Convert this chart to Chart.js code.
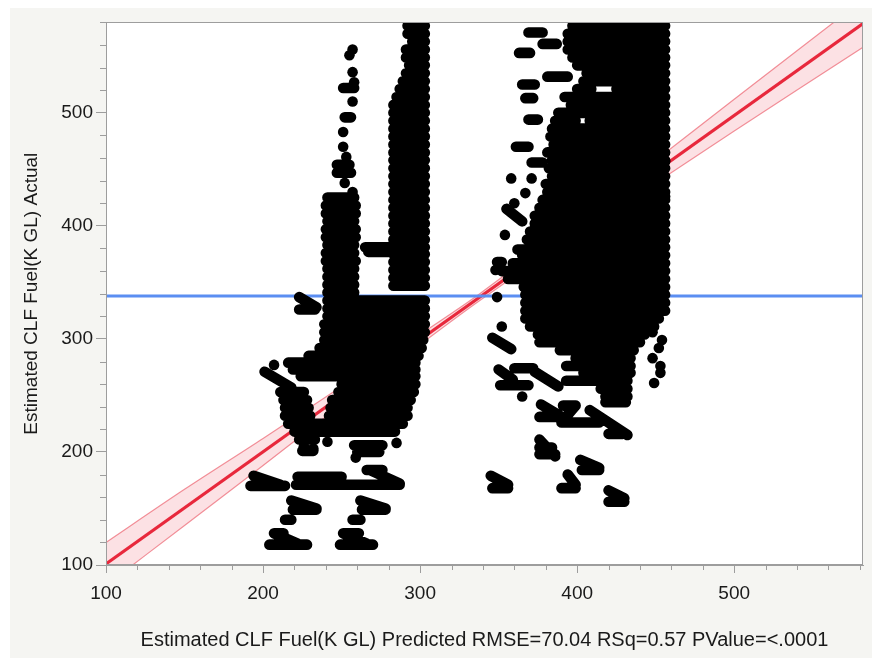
<!DOCTYPE html>
<html>
<head>
<meta charset="utf-8">
<script src="https://cdn.jsdelivr.net/npm/chart.js@4.4.1/dist/chart.umd.min.js"></script>
<style>
  html, body { margin: 0; background: #fff; }
  #wrap { position: absolute; left: 10px; top: 8px; width: 862px; height: 650px; background: #f5f5f2; }
</style>
</head>
<body>
<div id="wrap"><canvas id="fit-chart"></canvas></div>
<script>
// axes
const xMin = 100, xMax = 582;
const yMin = 100, yMax = 580;
const xTitle = 'Estimated CLF Fuel(K GL) Predicted RMSE=70.04 RSq=0.57 PValue=<.0001';
const yTitle = 'Estimated CLF Fuel(K GL) Actual';

// fit line, confidence band, mean
const fitX = [100, 582];
const fitY = [101, 579];
const bandX = [100, 150, 200, 250, 300, 338, 400, 450, 500, 582];
const bandUpper = [120, 167, 212, 258, 304, 340, 405, 458, 512, 600];
const bandLower = [82, 135, 188, 242, 295, 334, 393, 438, 484, 558];
const meanY = 338;

// points come in horizontal runs: [y, xFrom, xTo]
const leftRows = [
  [577,292,303],[570,292,303],[563,295,303],[556,291,303],[549,291,303],[542,293,303],
  [535,291,303],[528,289,303],[521,287,303],[514,285,303],[507,283,303],[500,283,303],
  [493,283,303],[486,283,303],[479,283,303],[472,283,303],[465,283,303],[458,283,303],
  [451,283,303],[444,283,303],[437,283,303],[430,283,303],[423,283,303],[416,283,303],
  [409,283,303],[402,283,303],[395,283,303],[388,283,303],[381,265,303],[377,267,280],
  [375,283,303],[368,283,303],[361,283,303],[354,283,303],[347,283,303],
  [522,251,258],[496,252,256],[454,247,255],[447,247,256],
  [425,241,258],[418,240,259],[411,240,259],[404,241,258],[397,240,259],[390,240,259],
  [383,241,258],[376,240,258],[369,240,259],[362,241,258],[355,241,258],[348,241,258],
  [341,241,258],[326,223,233],
  [334,241,303],[327,241,303],[320,241,303],[313,239,303],[306,239,303],[299,239,302],
  [292,236,301],[285,229,299],[279,216,297],[273,219,297],[267,224,297],[260,250,297],
  [253,211,226],[253,248,296],[246,213,228],[246,244,294],[239,214,229],[239,243,292],
  [232,214,230],[232,242,292],[225,216,289],[218,220,284],
  [211,223,233],[206,258,276],[201,225,232],[200,260,274],
  [170,192,214],[178,222,250],[171,221,287],[184,266,276],[149,219,234],[149,263,278],
  [140,214,218],[140,257,262],[128,207,213],[118,204,228],[128,251,261],[118,249,270]
];
const rightRows = [
  [571,369,378],[561,378,387],[553,363,370],[532,381,394],[525,365,373],[513,367,372],
  [494,369,375],[479,383,397],[470,361,369],[456,371,378],[379,362,369],[368,349,352],
  [577,397,456],[570,394,456],[563,394,456],[556,394,456],[549,397,456],[542,400,456],
  [535,406,456],[528,404,456],[521,400,409],[521,425,456],[514,392,456],
  [507,396,456],[500,388,456],[493,386,399],[493,408,456],[486,384,456],[479,383,456],
  [472,385,456],[465,381,456],[458,384,456],
  [451,382,456],[444,384,456],[437,380,456],[430,381,456],[423,378,456],[416,376,456],
  [409,373,456],[402,373,456],[395,370,456],[388,368,456],[381,370,456],[374,365,456],
  [367,359,456],[360,352,456],[353,356,456],[346,366,456],[339,367,456],[332,367,456],
  [325,367,456],[318,367,452],[311,370,449],[304,375,443],[297,376,440],[290,389,436],
  [283,399,434],[276,393,434],[270,404,434],[263,393,432],[256,415,432],[249,418,432],
  [244,418,431],
  [274,360,372],[259,351,369],[231,376,388],[241,391,399],[226,390,414],[216,420,429],
  [204,376,384],[198,376,386],[184,403,414],[168,346,356],[168,390,399],[156,420,430]
];
// slanted runs: [x1, y1, x2, y2]
const leftRuns = [
  [223,337,234,328],[201,271,218,257],[194,179,211,171],[268,184,287,172],
  [218,157,234,150],[262,157,278,150],[207,128,222,119],[251,128,266,119]
];
const rightRuns = [
  [350,273,359,264],[373,271,388,258],[377,242,389,232],[399,241,391,228],
  [408,237,432,215],[376,211,386,196],[402,193,414,186],[345,179,356,171],
  [394,180,399,171],[420,166,430,159],[346,301,358,291],[355,415,365,404]
];
// single points: [x, y]
const leftDots = [
  [257,556],[255,551],[257,536],[258,527],[257,510],[251,483],[251,470],[253,461],
  [252,438],[257,430],[207,277],[241,209],[285,208],[259,195],[226,205],[232,203]
];
const rightDots = [
  [358,442],[371,442],[367,429],[360,420],[354,392],[348,361],[349,337],[352,311],
  [448,306],[454,299],[452,292],[448,283],[453,276],[453,270],[449,261],[365,249],
  [456,457],[456,426]
];

// runs -> one broken polyline
function runPath(rows, runs) {
  const pts = [];
  rows.forEach(([y, x1, x2]) => pts.push({x: x1, y: y}, {x: x2, y: y}, {x: x2, y: null}));
  runs.forEach(([x1, y1, x2, y2]) => pts.push({x: x1, y: y1}, {x: x2, y: y2}, {x: x2, y: null}));
  return pts;
}
const runPts = runPath(leftRows.concat(rightRows), leftRuns.concat(rightRuns));
const dotPts = leftDots.concat(rightDots).map(([x, y]) => ({x, y}));

const isMajor = v => v % 100 === 0;
const axisGray = '#9d9d9d';

// white plot area, frame and the short minor ticks
const frame = {
  id: 'frame',
  beforeDraw(chart) {
    const {ctx, chartArea: a} = chart;
    ctx.save();
    ctx.fillStyle = '#fff';
    ctx.fillRect(a.left, a.top, a.right - a.left, a.bottom - a.top);
    ctx.restore();
  },
  afterDraw(chart) {
    const {ctx, chartArea: a, scales} = chart;
    ctx.save();
    ctx.strokeStyle = axisGray;
    ctx.lineWidth = 1;
    ctx.strokeRect(Math.round(a.left) + 0.5, Math.round(a.top) + 0.5, Math.round(a.right - a.left) - 1, Math.round(a.bottom - a.top) - 1);
    ctx.beginPath();
    scales.x.ticks.filter(t => !isMajor(t.value)).forEach(t => {
      const px = Math.round(scales.x.getPixelForValue(t.value)) + 0.5;
      ctx.moveTo(px, a.bottom);
      ctx.lineTo(px, a.bottom + 5);
    });
    scales.y.ticks.filter(t => !isMajor(t.value)).forEach(t => {
      const py = Math.round(scales.y.getPixelForValue(t.value)) + 0.5;
      ctx.moveTo(a.left, py);
      ctx.lineTo(a.left - 6, py);
    });
    ctx.stroke();
    ctx.restore();
  }
};

const font = { family: '"Liberation Sans", Arial, Helvetica, sans-serif', size: 19 };
const majorTickColor = c => (c.tick && isMajor(c.tick.value)) ? axisGray : 'rgba(0,0,0,0)';

new Chart(document.getElementById('fit-chart'), {
  type: 'line',
  data: {
    datasets: [
      {
        data: dotPts, showLine: false, order: 0, clip: 0,
        pointRadius: 5.3, pointBackgroundColor: '#000', pointBorderWidth: 0, pointHoverRadius: 0
      },
      {
        data: runPts, order: 0, clip: 0, spanGaps: false,
        borderColor: '#000', borderWidth: 10.6, borderCapStyle: 'round', borderJoinStyle: 'round',
        pointRadius: 0, tension: 0
      },
      {
        data: [{x: xMin, y: meanY}, {x: xMax, y: meanY}], order: 1, clip: 0,
        borderColor: '#5b8ef2', borderWidth: 3, pointRadius: 0
      },
      {
        data: fitX.map((x, i) => ({x, y: fitY[i]})), order: 2, clip: 0,
        borderColor: '#e8283c', borderWidth: 3.2, pointRadius: 0
      },
      {
        data: bandX.map((x, i) => ({x, y: bandUpper[i]})), order: 3, clip: 0,
        borderColor: 'rgba(236,100,112,0.7)', borderWidth: 1.2, pointRadius: 0,
        backgroundColor: 'rgba(242,120,132,0.22)', fill: '+1', tension: 0.3
      },
      {
        data: bandX.map((x, i) => ({x, y: bandLower[i]})), order: 3, clip: 0,
        borderColor: 'rgba(236,100,112,0.7)', borderWidth: 1.2, pointRadius: 0,
        fill: false, tension: 0.3
      }
    ]
  },
  options: {
    animation: false,
    responsive: true,
    maintainAspectRatio: false,
    layout: { padding: { top: 14, right: 9, left: 0, bottom: 0 } },
    plugins: { legend: { display: false }, tooltip: { enabled: false } },
    events: [],
    scales: {
      x: {
        type: 'linear', min: xMin, max: xMax,
        afterFit: s => { s.height = 93; },
        border: { color: axisGray },
        grid: { drawOnChartArea: false, tickLength: 8, tickColor: majorTickColor },
        ticks: {
          stepSize: 20, autoSkip: false, maxRotation: 0, includeBounds: false, padding: 9,
          color: '#1a1a1a', font: font,
          callback: v => isMajor(v) ? v : ''
        },
        title: { display: true, text: xTitle, color: '#1a1a1a', font: { family: font.family, size: 20 }, padding: { top: 0, bottom: 6 } }
      },
      y: {
        type: 'linear', min: yMin, max: yMax,
        afterFit: s => { s.width = 96; },
        border: { color: axisGray },
        grid: { drawOnChartArea: false, tickLength: 10, tickColor: majorTickColor },
        ticks: {
          stepSize: 20, autoSkip: false, includeBounds: false, padding: 3,
          color: '#1a1a1a', font: font,
          callback: v => isMajor(v) ? v : ''
        },
        title: { display: true, text: yTitle, color: '#1a1a1a', font: { family: font.family, size: 19 }, padding: { top: 10, bottom: 0 } }
      }
    }
  },
  plugins: [frame]
});
</script>
</body>
</html>
